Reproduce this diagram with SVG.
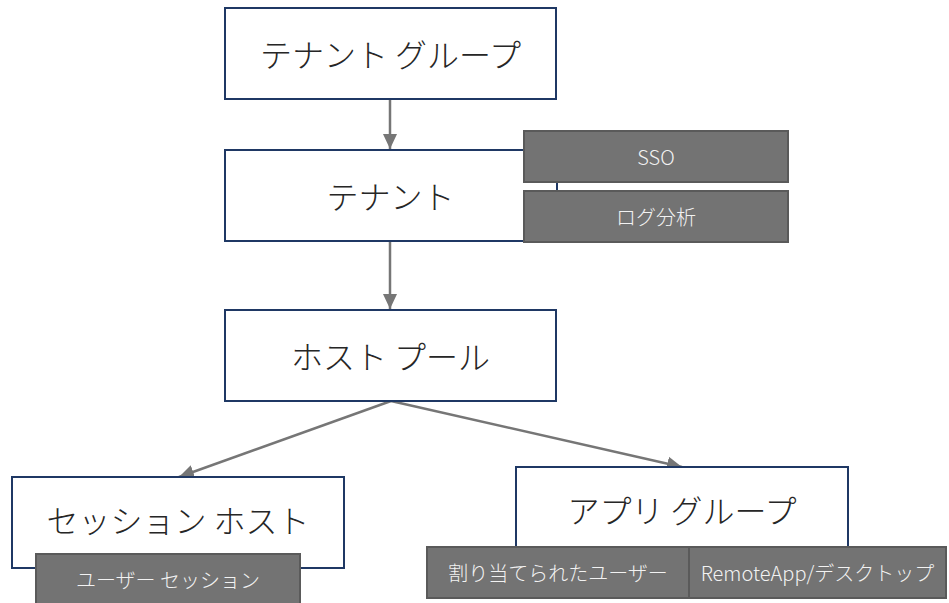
<svg xmlns="http://www.w3.org/2000/svg" width="949" height="603" viewBox="0 0 949 603">
<defs>
<style>
.node{fill:#ffffff;stroke:#1f3864;stroke-width:2}
.tag{fill:#737373;stroke:#5a5a5a;stroke-width:2}
.lbl{font-family:"Noto Sans CJK JP","Liberation Sans",sans-serif;font-size:32px;font-weight:300;fill:#262626;text-anchor:middle;dominant-baseline:central}
.tlbl{font-family:"Noto Sans CJK JP","Liberation Sans",sans-serif;font-size:20px;font-weight:300;fill:#f2f2f2;text-anchor:middle;dominant-baseline:central}
.con{stroke:#767676;stroke-width:2.5;fill:none}
</style>
<marker id="arr" markerUnits="userSpaceOnUse" markerWidth="16" markerHeight="16" viewBox="0 0 16 16" refX="15" refY="8" orient="auto">
<path d="M0,1 L15,8 L0,15 Z" fill="#767676"/>
</marker>
</defs>
<rect width="949" height="603" fill="#ffffff"/>
<g id="connectors">
<line class="con" x1="390" y1="100" x2="390" y2="149" marker-end="url(#arr)"/>
<line class="con" x1="390" y1="242" x2="390" y2="309" marker-end="url(#arr)"/>
<line class="con" x1="391" y1="401" x2="179" y2="477" marker-end="url(#arr)"/>
<line class="con" x1="391" y1="401" x2="682" y2="467" marker-end="url(#arr)"/>
</g>
<g id="tenant-group">
<rect class="node" x="225" y="8" width="331" height="91"/>
<text class="lbl" x="390.5" y="53">テナント グループ</text>
</g>
<g id="tenant">
<rect class="node" x="225" y="150" width="332" height="91"/>
<text class="lbl" x="390.5" y="195">テナント</text>
</g>
<g id="sso">
<rect class="tag" x="524" y="131" width="264" height="51"/>
<text class="tlbl" x="656" y="156">SSO</text>
</g>
<g id="log-analytics">
<rect class="tag" x="524" y="191" width="264" height="51"/>
<text class="tlbl" x="656" y="216">ログ分析</text>
</g>
<g id="host-pool">
<rect class="node" x="225" y="310" width="331" height="91"/>
<text class="lbl" x="390.5" y="355">ホスト プール</text>
</g>
<g id="session-host">
<rect class="node" x="12" y="477" width="332" height="91"/>
<text class="lbl" x="178" y="519">セッション ホスト</text>
</g>
<g id="user-session">
<rect class="tag" x="36" y="554" width="264" height="52"/>
<text class="tlbl" x="168" y="579">ユーザー セッション</text>
</g>
<g id="app-group">
<rect class="node" x="516" y="467" width="332" height="91"/>
<text class="lbl" x="682" y="509">アプリ グループ</text>
</g>
<g id="assigned-users">
<rect class="tag" x="427" y="547" width="262" height="51"/>
<text class="tlbl" x="558" y="572">割り当てられたユーザー</text>
</g>
<g id="remoteapp-desktop">
<rect class="tag" x="689" y="547" width="257" height="51"/>
<text class="tlbl" x="817.5" y="572">RemoteApp/デスクトップ</text>
</g>
</svg>
